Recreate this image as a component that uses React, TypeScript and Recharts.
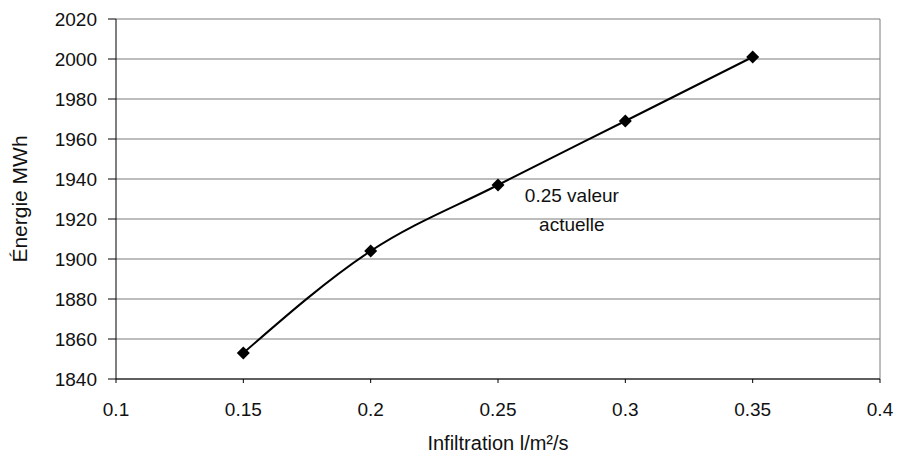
import { LineChart, Line, XAxis, YAxis, CartesianGrid, ReferenceLine, ReferenceDot } from 'recharts'

// infiltration rate (l/m²/s) vs yearly energy (MWh)
const infiltration = [0.15, 0.2, 0.25, 0.3, 0.35]
const energy = [1853, 1904, 1937, 1969, 2001]
const xTicks = [0.1, 0.15, 0.2, 0.25, 0.3, 0.35, 0.4]
const yTicks = [1840, 1860, 1880, 1900, 1920, 1940, 1960, 1980, 2000, 2020]
const noteLines = ['0.25 valeur', 'actuelle']
const notePos = { x: 0.279, y: 1932 }

const data = infiltration.map((x, i) => ({ x, energy: energy[i] }))

const FONT = '"Liberation Sans", Arial, sans-serif'

const Diamond = (props: any) => {
    const { cx, cy } = props
    if (cx == null || cy == null) return null
    const s = 6.5
    return (
        <polygon
            points={`${cx},${cy - s} ${cx + s},${cy} ${cx},${cy + s} ${cx - s},${cy}`}
            fill="#000"
        />
    )
}

const Note = (props: any) => {
    const { viewBox } = props
    if (!viewBox) return null
    const cx = viewBox.x + (viewBox.width || 0) / 2
    const cy = viewBox.y + (viewBox.height || 0) / 2
    return (
        <text x={cx} y={cy} textAnchor="middle" fontSize={19} fontFamily={FONT} fill="#111">
            {noteLines.map((t, i) => (
                <tspan key={i} x={cx} dy={i === 0 ? 7 : 29}>{t}</tspan>
            ))}
        </text>
    )
}

export default function App() {
    return (
        <div style={{ position: 'absolute', left: 0, top: 0, width: 899, height: 462, background: '#fff' }}>
            <LineChart
                width={899}
                height={462}
                data={data}
                margin={{ top: 19, right: 19, bottom: 0, left: 0 }}
                style={{ fontFamily: FONT }}
            >
                <CartesianGrid vertical={false} stroke="#7a7a7a" strokeWidth={1} />
                <XAxis
                    dataKey="x"
                    type="number"
                    domain={[0.1, 0.4]}
                    ticks={xTicks}
                    height={83}
                    tickSize={4}
                    tickMargin={20}
                    stroke="#000"
                    tick={{ fill: '#111', fontSize: 19, fontFamily: FONT }}
                    label={{ value: 'Infiltration l/m²/s', position: 'insideBottom', offset: 12, fill: '#111', fontSize: 20, fontFamily: FONT }}
                />
                <YAxis
                    type="number"
                    domain={[1840, 2020]}
                    ticks={yTicks}
                    width={116}
                    tickSize={8}
                    tickMargin={11}
                    stroke="#000"
                    tick={{ fill: '#111', fontSize: 19, fontFamily: FONT }}
                    label={{ value: 'Énergie MWh', angle: -90, position: 'center', dx: -38, fill: '#111', fontSize: 21, fontFamily: FONT }}
                />
                <ReferenceLine x={0.4} stroke="#7a7a7a" />
                <Line
                    type="monotone"
                    dataKey="energy"
                    stroke="#000"
                    strokeWidth={2}
                    dot={<Diamond />}
                    activeDot={false}
                    isAnimationActive={false}
                />
                <ReferenceDot x={notePos.x} y={notePos.y} r={0} fill="none" stroke="none" label={<Note />} />
            </LineChart>
        </div>
    )
}
